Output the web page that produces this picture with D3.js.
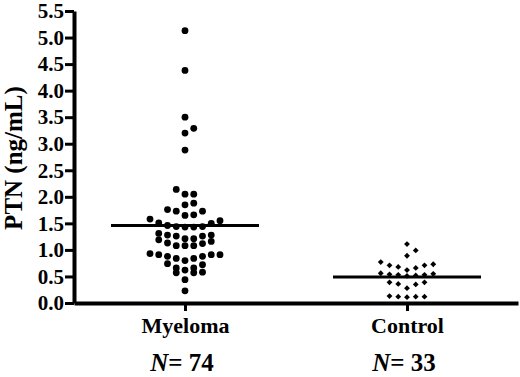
<!DOCTYPE html>
<html>
<head>
<meta charset="utf-8">
<script src="https://cdn.jsdelivr.net/npm/d3@7"></script>
<style>
  body { margin: 0; background: #fff; }
  svg { display: block; }
</style>
</head>
<body>
<svg width="520" height="377"></svg>
<script>
// values
const groups = ['Myeloma', 'Control'];
const groupN = [74, 33];
const groupLine = [1.46, 0.49];   // level of the horizontal bar per group

const myeloma = [0.23, 0.44, 0.57, 0.57, 0.58, 0.62, 0.66, 0.66, 0.72, 0.74,
  0.80, 0.84, 0.84, 0.88, 0.88, 0.91, 0.91, 0.91, 0.93,
  1.08, 1.08, 1.08, 1.12, 1.13, 1.16, 1.19,
  1.21, 1.21, 1.26, 1.26, 1.28, 1.28, 1.31,
  1.43, 1.43, 1.44, 1.44, 1.46, 1.50, 1.51, 1.55, 1.58,
  1.65, 1.66, 1.73, 1.73, 1.76, 1.85, 1.88, 2.05, 2.05, 2.14,
  2.88, 3.20, 3.29, 3.50, 4.38, 5.13];

const control = [0.11, 0.12, 0.12, 0.12, 0.13, 0.28, 0.35, 0.36, 0.39, 0.39,
  0.51, 0.52, 0.53, 0.53, 0.54, 0.55, 0.56,
  0.62, 0.66, 0.68, 0.71, 0.71, 0.73, 0.77, 0.89, 0.99, 1.11];

const yTicks = [0.0, 0.5, 1.0, 1.5, 2.0, 2.5, 3.0, 3.5, 4.0, 4.5, 5.0, 5.5];

const serif = 'Liberation Serif';

const svg = d3.select('svg');

const x = d3.scalePoint()
    .domain(groups)
    .range([74, 518])
    .padding(0.5);

const y = d3.scaleLinear()
    .domain([0, 5.5])
    .range([303, 11]);

// prism-like column scatter: values binned into rows, spread out from the centre
const binWidth = 0.2;
const slotWidth = 8.75;
const spread = values => {
    const rows = d3.group(values.slice().sort(d3.ascending), v => Math.floor(v / binWidth + 1e-9));
    const out = [];
    rows.forEach(row => {
        row.forEach((v, i) => {
            const slot = i === 0 ? 0 : (i % 2 ? (i + 1) / 2 : -i / 2);
            out.push({value: v, slot: slot});
        });
    });
    return out;
};

// axes
const yAxisG = svg.append('g')
    .attr('transform', 'translate(74,0)')
    .call(d3.axisLeft(y).tickValues(yTicks).tickFormat(d3.format('.1f'))
        .tickSize(9).tickSizeOuter(0).tickPadding(1));
yAxisG.select('.domain').attr('stroke-width', 4);
yAxisG.selectAll('.tick line').attr('stroke-width', 3);
yAxisG.selectAll('.tick text')
    .style('font-family', serif).style('font-size', '21px').style('font-weight', 'bold');

const xAxisG = svg.append('g')
    .attr('transform', 'translate(0,303)')
    .call(d3.axisBottom(x).tickSize(8).tickSizeOuter(0).tickPadding(6));
xAxisG.select('.domain').attr('stroke-width', 4);
xAxisG.selectAll('.tick line').attr('stroke-width', 3);
xAxisG.selectAll('.tick text')
    .style('font-family', serif).style('font-size', '22px').style('font-weight', 'bold');

// y label
svg.append('text')
    .attr('transform', 'translate(22,158) rotate(-90)')
    .attr('text-anchor', 'middle')
    .style('font-family', serif).style('font-size', '25px').style('font-weight', 'bold')
    .text('PTN (ng/mL)');

// N under each group
const nText = svg.selectAll('.ncount')
    .data(groups)
    .enter()
    .append('text')
    .attr('class', 'ncount')
    .attr('x', d => x(d) - 3)
    .attr('y', 371)
    .attr('text-anchor', 'middle')
    .style('font-family', serif).style('font-size', '25px').style('font-weight', 'bold');
nText.append('tspan').style('font-style', 'italic').text('N');
nText.append('tspan').text((d, i) => '= ' + groupN[i]);

// myeloma dots
svg.append('g').selectAll('circle')
    .data(spread(myeloma))
    .enter()
    .append('circle')
    .attr('cx', d => x('Myeloma') + d.slot * slotWidth)
    .attr('cy', d => y(d.value))
    .attr('r', 3.4)
    .attr('fill', 'black');

// control diamonds
const diamond = d3.symbol(d3.symbolSquare, 17);
svg.append('g').selectAll('path')
    .data(spread(control))
    .enter()
    .append('path')
    .attr('d', diamond)
    .attr('transform', d => 'translate(' + (x('Control') + d.slot * slotWidth) + ',' + y(d.value) + ') rotate(45)')
    .attr('fill', 'black');

// horizontal bars
svg.append('g').selectAll('line')
    .data(groups)
    .enter()
    .append('line')
    .attr('x1', d => x(d) - 74)
    .attr('x2', d => x(d) + 74)
    .attr('y1', (d, i) => y(groupLine[i]))
    .attr('y2', (d, i) => y(groupLine[i]))
    .attr('stroke', 'black')
    .attr('stroke-width', 3);
</script>
</body>
</html>
